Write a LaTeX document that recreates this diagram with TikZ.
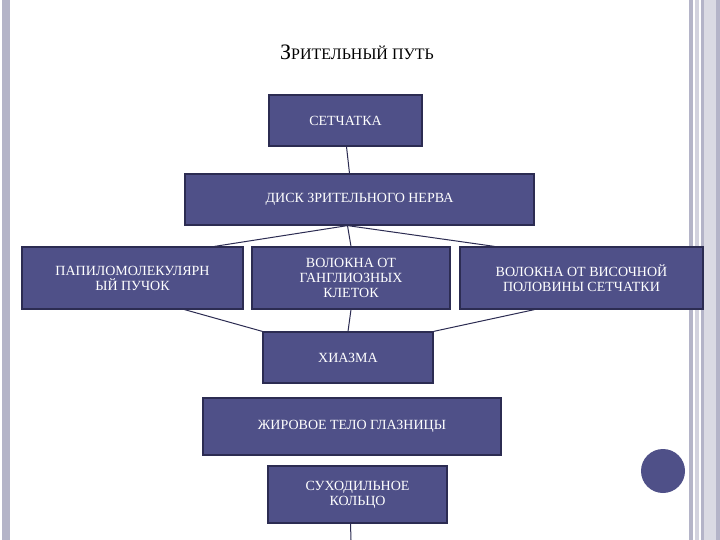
\documentclass[tikz,border=0pt]{standalone}
\usepackage{fontspec}
\setmainfont{Liberation Serif}
\definecolor{boxfill}{HTML}{4F5088}
\definecolor{boxline}{HTML}{2C2C52}
\definecolor{barg}{HTML}{B4B4C8}
\begin{document}
\begin{tikzpicture}[x=1pt,y=-1pt,
  box/.style={draw=boxline,line width=1.2pt,fill=boxfill,text=white,align=center,font=\fontsize{14}{15}\selectfont,inner sep=0pt},
  conn/.style={draw=boxline,line width=1pt}]
\useasboundingbox (0,0) rectangle (720,540);
\fill[white] (0,0) rectangle (720,540);
\fill[barg] (2,0) rectangle (10,540);
\fill[barg] (689,0) rectangle (693,540);
\fill[barg!60] (695,0) rectangle (699,540);
\fill[barg] (701,0) rectangle (720,540);
\fill[barg!50] (704,0) rectangle (716,540);
\node (title) at (357,52) {{\fontsize{22}{24}\selectfont З}{\fontsize{16}{18}\selectfont РИТЕЛЬНЫЙ ПУТЬ}};
\node[box,minimum width=153pt,minimum height=51pt] (ret) at (345.5,120.5) {СЕТЧАТКА};
\node[box,minimum width=349pt,minimum height=51pt] (disk) at (359.5,199.5) {ДИСК ЗРИТЕЛЬНОГО НЕРВА};
\node[box,minimum width=221pt,minimum height=62pt] (pap) at (132.5,278) {ПАПИЛОМОЛЕКУЛЯРН\\ЫЙ ПУЧОК};
\node[box,minimum width=198pt,minimum height=62pt] (gang) at (351,278) {ВОЛОКНА ОТ\\ГАНГЛИОЗНЫХ\\КЛЕТОК};
\node[box,minimum width=243pt,minimum height=62pt] (tem) at (581.5,278) {ВОЛОКНА ОТ ВИСОЧНОЙ\\ПОЛОВИНЫ СЕТЧАТКИ};
\node[box,minimum width=170pt,minimum height=51pt] (chi) at (348,357.5) {ХИАЗМА};
\node[box,minimum width=298pt,minimum height=57pt] (fat) at (352,426.5) {ЖИРОВОЕ ТЕЛО ГЛАЗНИЦЫ};
\node[box,minimum width=179pt,minimum height=57pt] (ring) at (357.5,494.5) {СУХОДИЛЬНОЕ\\КОЛЬЦО};
\coordinate (bot) at (351,540);
\draw[conn] (ret.south) ++(1,0) -- ([xshift=-10pt]disk.north);
\draw[conn] ([xshift=-12pt]disk.south) -- ([xshift=82pt]pap.north);
\draw[conn] ([xshift=-12pt]disk.south) -- (gang.north);
\draw[conn] ([xshift=-12pt]disk.south) -- ([xshift=-87pt]tem.north);
\draw[conn] ([xshift=52pt]pap.south) -- (chi.north west);
\draw[conn] (gang.south) -- (chi.north);
\draw[conn] ([xshift=-47pt]tem.south) -- (chi.north east);
\draw[conn] ([xshift=-7pt]ring.south) -- (bot);
\fill[boxfill] (663,471) circle (22);
\end{tikzpicture}
\end{document}
